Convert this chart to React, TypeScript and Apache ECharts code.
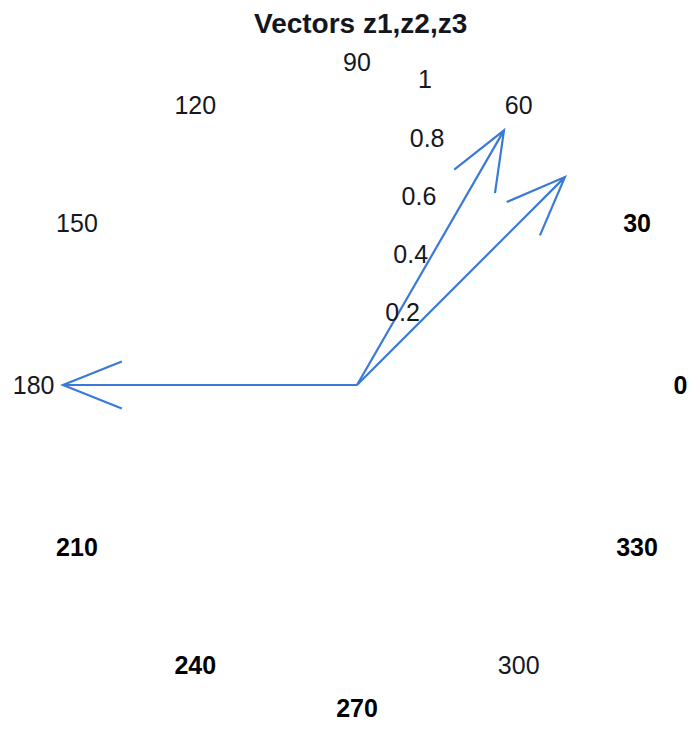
import React, { useEffect, useRef } from "react";
import * as echarts from "echarts";

// Vectors, as magnitude and direction (degrees)
const vectorNames = ["z1", "z2", "z3"];
const magnitudes = [1, 1, 1];
const anglesDeg = [60, 45, 180];

// Tick labels around and along the compass
const angleTicks = [0, 30, 60, 90, 120, 150, 180, 210, 240, 270, 300, 330];
const boldAngleTicks = [0, 30, 210, 240, 270, 330];
const radiusTicks = [0.2, 0.4, 0.6, 0.8, 1];

const TITLE = "Vectors z1,z2,z3";

const FONT = "'Liberation Sans', Arial, Helvetica, sans-serif";
const ARROW_COLOR = "#3a7ad6";
const LABEL_RADIUS = 1.1;
const RADIAL_LABEL_ANGLE = 82;

export default function App() {
  const ref = useRef<HTMLDivElement>(null);

  useEffect(() => {
    const chart = echarts.init(ref.current!, null, { renderer: "svg" });

    chart.setOption({
      animation: false,
      backgroundColor: "#ffffff",
      title: {
        text: TITLE,
        left: 249,
        top: 4,
        textStyle: {
          fontFamily: FONT,
          fontWeight: "bold",
          fontSize: 28,
          color: "#14161e",
        },
      },
      polar: { center: [357, 385], radius: 294 },
      angleAxis: {
        type: "value",
        min: 0,
        max: 360,
        startAngle: 0,
        clockwise: false,
        show: false,
      },
      radiusAxis: { type: "value", min: 0, max: 1, show: false },
      series: [
        {
          // compass arrows: shaft plus two barbs
          type: "custom",
          coordinateSystem: "polar",
          data: anglesDeg.map((a, i) => ({
            name: vectorNames[i],
            value: [magnitudes[i], a],
          })),
          renderItem: (_params: any, api: any) => {
            const r = api.value(0);
            const a = api.value(1);
            const o = api.coord([0, a]);
            const t = api.coord([r, a]);
            const dx = t[0] - o[0];
            const dy = t[1] - o[1];
            const b1 = [o[0] + 0.8 * dx - 0.08 * dy, o[1] + 0.8 * dy + 0.08 * dx];
            const b2 = [o[0] + 0.8 * dx + 0.08 * dy, o[1] + 0.8 * dy - 0.08 * dx];
            return {
              type: "polyline",
              shape: { points: [o, t, b1, t, b2] },
              style: { stroke: ARROW_COLOR, lineWidth: 2.2, fill: null },
            };
          },
        },
        {
          // angle labels around the rim
          type: "scatter",
          coordinateSystem: "polar",
          symbolSize: 0,
          clip: false,
          silent: true,
          itemStyle: { color: "transparent", opacity: 1 },
          data: angleTicks.map((a) => {
            const bold = boldAngleTicks.includes(a);
            return {
              value: [LABEL_RADIUS, a],
              label: {
                fontWeight: bold ? "bold" : "normal",
                color: bold ? "#000000" : "#15181f",
              },
            };
          }),
          label: {
            show: true,
            position: "inside",
            fontFamily: FONT,
            fontSize: 25,
            formatter: (p: any) => String(p.value[1]),
          },
        },
        {
          // radius labels along one spoke
          type: "scatter",
          coordinateSystem: "polar",
          symbolSize: 0,
          clip: false,
          silent: true,
          itemStyle: { color: "transparent", opacity: 1 },
          data: radiusTicks.map((v) => [v, RADIAL_LABEL_ANGLE]),
          label: {
            show: true,
            position: [20, -2],
            align: "left",
            verticalAlign: "bottom",
            fontFamily: FONT,
            fontSize: 25,
            color: "#15181f",
            formatter: (p: any) => String(p.value[0]),
          },
        },
      ],
    });

    return () => chart.dispose();
  }, []);

  return (
    <div
      ref={ref}
      style={{ position: "fixed", left: 0, top: 0, width: 696, height: 730 }}
    />
  );
}
